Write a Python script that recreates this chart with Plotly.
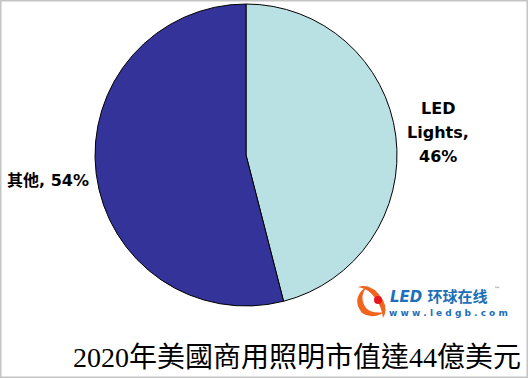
import plotly.graph_objects as go

labels = ["LED Lights", "其他"]
values = [46, 54]
colors = ["#B9E0E3", "#333399"]
label_lines = [["LED", "Lights,", "46%"], ["其他, 54%"]]
title_text = "2020年美國商用照明市值達44億美元"

W, H = 528, 378
cx, cy, r = 246, 155, 151

fig = go.Figure(go.Pie(
    labels=labels, values=values, sort=False, direction="clockwise", rotation=0,
    marker=dict(colors=colors, line=dict(color="#000000", width=1)),
    textinfo="none", hoverinfo="label+percent", showlegend=False,
    domain=dict(x=[(cx - r) / W, (cx + r) / W], y=[1 - (cy + r) / H, 1 - (cy - r) / H]),
))

def px(x):
    return x / W

def py(y):
    return 1 - y / H

ann = []
for i, line in enumerate(label_lines[0]):
    ann.append(dict(x=px(438), y=py(108 + 24 * i), text="<b>" + line + "</b>", showarrow=False,
                    font=dict(family="DejaVu Sans, Verdana, sans-serif", size=16, color="#000"),
                    xanchor="center", yanchor="middle"))
ann.append(dict(x=px(48), y=py(180), text="<b>" + label_lines[1][0] + "</b>", showarrow=False,
                font=dict(family="DejaVu Sans, Noto Sans CJK SC, sans-serif", size=16, color="#000"),
                xanchor="center", yanchor="middle"))
ann.append(dict(x=px(523), y=py(357), text=title_text, showarrow=False,
                font=dict(family="Liberation Serif, Noto Sans CJK TC, serif", size=28, color="#000"),
                xanchor="right", yanchor="middle"))
# logo texts
ann.append(dict(x=px(388), y=py(297), text="<b><i>LED</i> 环球在线</b>", showarrow=False,
                font=dict(family="DejaVu Sans, Noto Sans CJK SC, sans-serif", size=15, color="#1D6FB8"),
                xanchor="left", yanchor="middle"))
ann.append(dict(x=px(387), y=py(313), text="<b>w w w . l e d g b . c o m</b>", showarrow=False,
                font=dict(family="DejaVu Sans, sans-serif", size=9, color="#1D6FB8"),
                xanchor="left", yanchor="middle"))
ann.append(dict(x=px(492), y=py(288), text="™", showarrow=False,
                font=dict(family="DejaVu Sans, sans-serif", size=6, color="#555"),
                xanchor="left", yanchor="middle"))

shapes = [
    dict(type="rect", xref="paper", yref="paper", x0=0, x1=1, y0=0, y1=1,
         line=dict(color="#C4C4C4", width=3), fillcolor="rgba(0,0,0,0)"),
    # logo swirl
    dict(type="path", xref="paper", yref="paper",
         path=f"M {px(368)},{py(285)} Q {px(350)},{py(298)} {px(362)},{py(313)} Q {px(372)},{py(320)} {px(385)},{py(312)} "
              f"Q {px(372)},{py(314)} {px(366)},{py(308)} Q {px(358)},{py(297)} {px(368)},{py(285)} Z",
         fillcolor="#F0641E", line=dict(width=0)),
    dict(type="path", xref="paper", yref="paper",
         path=f"M {px(358)},{py(287)} Q {px(372)},{py(282)} {px(383)},{py(300)} Q {px(388)},{py(310)} {px(383)},{py(318)} "
              f"Q {px(382)},{py(308)} {px(376)},{py(299)} Q {px(368)},{py(288)} {px(358)},{py(287)} Z",
         fillcolor="#F0641E", line=dict(width=0)),
    dict(type="circle", xref="paper", yref="paper", x0=px(374), x1=px(382), y0=py(304), y1=py(296),
         fillcolor="#E8141E", line=dict(width=0)),
]

fig.update_layout(width=W, height=H, margin=dict(l=0, r=0, t=0, b=0),
                  paper_bgcolor="#FFFFFF", plot_bgcolor="#FFFFFF",
                  annotations=ann, shapes=shapes)

fig.write_html("out.html", config={"displayModeBar": False},
               post_script="document.body.style.margin='0';document.body.style.padding='0';document.body.style.overflow='hidden';")
